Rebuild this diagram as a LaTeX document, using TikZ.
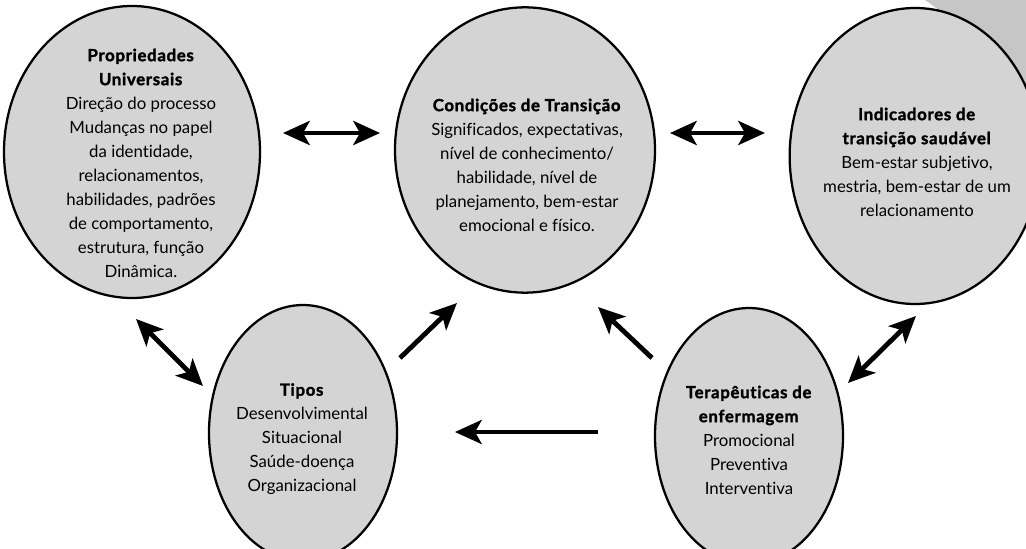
\documentclass[tikz,border=0pt]{standalone}
\usepackage{fontspec}
\setmainfont{Lato}[Ligatures={NoCommon},BoldFeatures={FakeBold=1.6,LetterSpace=4}]
\usetikzlibrary{shapes.geometric,arrows.meta}
\definecolor{bubblegray}{RGB}{212,212,213}
\definecolor{wedgegray}{RGB}{198,198,198}
\begin{document}
\begin{tikzpicture}[x=0.75pt,y=-0.75pt,
  bubble/.style={ellipse, draw=black, line width=1.7pt, fill=bubblegray, inner sep=0pt},
  txt/.style={align=center, font=\fontsize{12.6}{18}\selectfont},
  tip/.tip={Stealth[length=20pt,width=18pt,inset=5pt]},
  arr/.style={line width=3.6pt, -tip},
  darr/.style={line width=3.6pt, tip-tip}]
\useasboundingbox (0,0) rectangle (1026,549);
\clip (0,0) rectangle (1026,549);
% page curl wedge
\fill[wedgegray] (925,0) -- (1026,0) -- (1026,220) .. controls (1000,90) and (965,25) .. (925,0) -- cycle;
% ellipses
\node[bubble, minimum width=192pt, minimum height=219pt] (A) at (132,152) {};
\node[bubble, minimum width=195pt, minimum height=214pt] (B) at (525,150) {};
\node[bubble, minimum width=188pt, minimum height=222pt] (C) at (915,156) {};
\node[bubble, minimum width=141pt, minimum height=192pt] (D) at (303,433) {};
\node[bubble, minimum width=141pt, minimum height=192pt] (E) at (749,436) {};
% texts
\node[txt] (tA) at (141,163) {\textbf{Propriedades}\\\textbf{Universais}\\Direção do processo\\Mudanças no papel\\da identidade,\\relacionamentos,\\habilidades, padrões\\de comportamento,\\estrutura, função\\Dinâmica.};
\node[txt] (tB) at (527,165) {\textbf{Condições de Transição}\\Significados, expectativas,\\nível de conhecimento/\\habilidade, nível de\\planejamento, bem-estar\\emocional e físico.};
\node[txt] (tC) at (917,162) {\textbf{Indicadores de}\\\textbf{transição saudável}\\Bem-estar subjetivo,\\mestria, bem-estar de um\\relacionamento};
\node[txt] (tD) at (302,439) {\textbf{Tipos}\\Desenvolvimental\\Situacional\\Saúde-doença\\Organizacional};
\node[txt] (tE) at (749,440) {\textbf{Terapêuticas de}\\\textbf{enfermagem}\\Promocional\\Preventiva\\Interventiva};
% arrow endpoints
\coordinate (ab1) at (283,133); \coordinate (ab2) at (380,133);
\coordinate (bc1) at (670,133); \coordinate (bc2) at (765,133);
\coordinate (ad1) at (136,319); \coordinate (ad2) at (203,386);
\coordinate (db1) at (400,358); \coordinate (db2) at (457,303);
\coordinate (eb1) at (652,358); \coordinate (eb2) at (598,307);
\coordinate (ce1) at (916,316); \coordinate (ce2) at (848,383);
\coordinate (ed1) at (598,432); \coordinate (ed2) at (455,432);
% connectors
\draw[darr] (ab1) -- (ab2);
\draw[darr] (bc1) -- (bc2);
\draw[darr] (ad1) -- (ad2);
\draw[arr] (db1) -- (db2);
\draw[arr] (eb1) -- (eb2);
\draw[darr] (ce1) -- (ce2);
\draw[arr] (ed1) -- (ed2);
\end{tikzpicture}
\end{document}
